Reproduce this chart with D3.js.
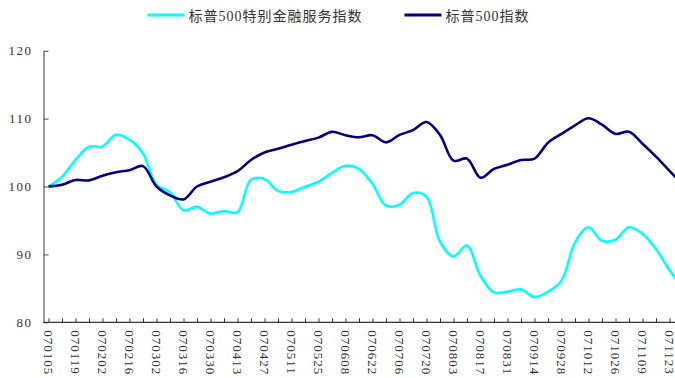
<!DOCTYPE html>
<html>
<head>
<meta charset="utf-8">
<script src="https://cdn.jsdelivr.net/npm/d3@7"></script>
<style>
  body { margin: 0; background: #fff; }
  svg { display: block; }
</style>
</head>
<body>
<div id="chart"></div>
<script>
// datos (cada 5 dias habiles)
var etiquetas = ["070105","070119","070202","070216","070302","070316","070330","070413",
                 "070427","070511","070525","070608","070622","070706","070720","070803",
                 "070817","070831","070914","070928","071012","071026","071109","071123"];

var nombres = ["标普500特别金融服务指数", "标普500指数"];
var colores = ["#00FFFF", "#000080"];

var financiero = [100.0,101.4,103.9,105.85,105.9,107.6,106.9,104.9,100.25,99.2,
                  96.5,97.0,96.0,96.4,96.2,101.0,101.1,99.35,99.2,99.95,
                  100.7,102.0,103.05,102.6,100.4,97.2,97.3,99.05,98.5,91.9,
                  89.7,91.3,86.85,84.4,84.5,84.85,83.75,84.5,86.1,91.7,
                  94.0,92.0,92.15,94.0,93.05,90.8,87.7,85.1];

var sp500 = [100.0,100.25,100.96,100.9,101.6,102.1,102.4,103.0,100.0,98.7,
             98.1,100.0,100.7,101.35,102.25,103.9,105.0,105.55,106.15,106.7,
             107.2,108.05,107.55,107.25,107.55,106.5,107.6,108.3,109.5,107.6,
             103.8,104.1,101.3,102.6,103.2,103.9,104.1,106.45,107.75,109.0,
             110.05,109.1,107.75,108.05,106.3,104.4,102.3,100.25];

var paso = 5;   // dias entre puntos
var ejeY_valores = [80, 90, 100, 110, 120];

var width = 675, height = 378;
var fuente = "'Liberation Serif', 'Noto Sans CJK SC', serif";

var svg = d3.select("#chart").append("svg")
    .attr("width", width)
    .attr("height", height);

var escalaX = d3.scaleLinear()
    .domain([0, 235])
    .range([48.5, 48.5 + 2.7 * 235]);

var escalaY = d3.scaleLinear()
    .domain([80, 120])
    .range([322.3, 50.7]);

var origenX = 43.5;

// eje Y
var ejeY = d3.axisLeft(escalaY)
    .tickValues(ejeY_valores)
    .tickSize(-5)
    .tickSizeOuter(0)
    .tickPadding(11);

var gY = svg.append("g")
    .attr("transform", "translate(" + origenX + ",0)")
    .call(ejeY);

gY.select(".domain").attr("stroke", "#666").attr("stroke-width", 1.3);
gY.selectAll(".tick line").attr("stroke", "#444");
gY.selectAll("text")
    .style("font-family", fuente)
    .style("font-size", "13px")
    .style("letter-spacing", "1.5px")
    .attr("fill", "#333");

// eje X
var ticksX = d3.range(0, 236, 5);
var ejeX = d3.axisBottom(escalaX)
    .tickValues(ticksX)
    .tickSize(-4)
    .tickSizeOuter(0)
    .tickFormat(function(d){ return d % 10 === 0 && etiquetas[d / 10] ? etiquetas[d / 10] : ""; });

var gX = svg.append("g")
    .attr("transform", "translate(0," + escalaY(80) + ")")
    .call(ejeX);

gX.select(".domain").remove();
gX.append("line")
    .attr("x1", origenX)
    .attr("x2", width)
    .attr("stroke", "#333")
    .attr("stroke-width", 1.3);
gX.selectAll(".tick line").attr("stroke", "#333");
gX.selectAll("text")
    .attr("y", 0)
    .attr("x", 8)
    .attr("dy", "0.35em")
    .attr("transform", "rotate(90)")
    .style("text-anchor", "start")
    .style("font-family", fuente)
    .style("font-size", "13px")
    .style("letter-spacing", "1px")
    .attr("fill", "#333");

// lineas
var linea = d3.line()
    .x(function(d, i){ return escalaX(i * paso); })
    .y(function(d){ return escalaY(d); })
    .curve(d3.curveCatmullRom.alpha(0.5));

[financiero, sp500].forEach(function(serie, k){
  svg.append("path")
    .datum(serie)
    .attr("fill", "none")
    .attr("stroke", colores[k])
    .attr("stroke-width", 2.6)
    .attr("stroke-linejoin", "round")
    .attr("d", linea);
});

// leyenda
var leyendaX = [147.5, 404.5];
nombres.forEach(function(n, k){
  var g = svg.append("g").attr("transform", "translate(" + leyendaX[k] + ",15)");
  g.append("line")
    .attr("x1", 0).attr("x2", 37)
    .attr("stroke", colores[k])
    .attr("stroke-width", 3);
  g.append("text")
    .attr("x", 41)
    .attr("y", 5.5)
    .text(n)
    .style("font-family", fuente)
    .style("font-size", "14px")
    .style("letter-spacing", "1px")
    .attr("fill", "#333");
});
</script>
</body>
</html>
